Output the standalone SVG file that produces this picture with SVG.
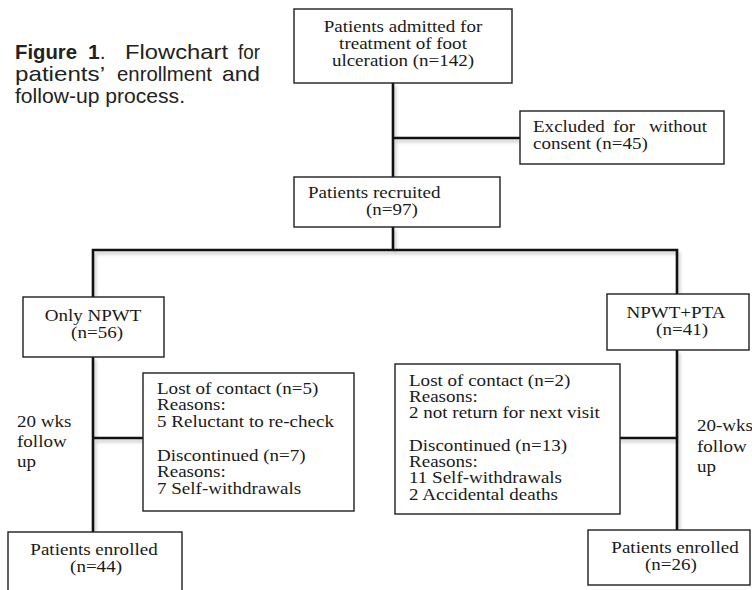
<svg xmlns="http://www.w3.org/2000/svg" width="752" height="590" viewBox="0 0 752 590">
<style>
.box{fill:#fff;stroke:#1e1e1e;stroke-width:1.4}
.t{font-family:"Liberation Serif","Times New Roman",serif;font-size:17px;fill:#1a1a1a}
.c{text-anchor:middle}
.cap{font-family:"Liberation Sans",Arial,sans-serif;font-size:21px;fill:#222}
.b{font-weight:bold}
.ln{stroke:#111;stroke-width:2.6;fill:none;stroke-linecap:square}
.sh{stroke:#000;stroke-opacity:0.18;stroke-width:3;fill:none;filter:url(#blur)}
</style>
<defs>
<filter id="blur" x="-10%" y="-50%" width="120%" height="200%"><feGaussianBlur stdDeviation="1.5"/></filter>
</defs>
<rect width="752" height="590" fill="#fff"/>

<g id="caption">
<text class="cap b" x="15" y="59" textLength="62" lengthAdjust="spacingAndGlyphs">Figure</text>
<text class="cap" x="88" y="59"><tspan class="b">1</tspan>.</text>
<text class="cap" x="125" y="59" textLength="103" lengthAdjust="spacingAndGlyphs">Flowchart</text>
<text class="cap" x="238" y="59" textLength="22" lengthAdjust="spacingAndGlyphs">for</text>
<text class="cap" x="15" y="81" textLength="90" lengthAdjust="spacingAndGlyphs">patients’</text>
<text class="cap" x="117" y="81" textLength="95" lengthAdjust="spacingAndGlyphs">enrollment</text>
<text class="cap" x="222" y="81" textLength="38" lengthAdjust="spacingAndGlyphs">and</text>
<text class="cap" x="15" y="103" textLength="170" lengthAdjust="spacingAndGlyphs">follow-up process.</text>
</g>

<g id="connectors">
<path class="sh" d="M395,86V177M395,141H520M395,230V252M95,253H679M95,253V297M679,253V294M95,360V532M95,441H143M679,353V530M620,441H679"/>
<path class="ln" d="M393,83V177M393,138H520M393,227V250M93,250H677M93,250V297M677,250V294M93,357V532M93,438H143M677,350V530M620,438H677"/>
</g>

<g id="admitted">
<rect class="box" x="294" y="9" width="218" height="74"/>
<text class="t c" transform="translate(403,0) scale(1.12,1)"><tspan x="0" y="32">Patients admitted for</tspan><tspan x="0" y="49">treatment of foot</tspan><tspan x="0" y="66">ulceration (n=142)</tspan></text>
</g>

<g id="excluded">
<rect class="box" x="520" y="111" width="204" height="53"/>
<text class="t" transform="translate(533,0) scale(1.12,1)"><tspan x="0" y="132">Excluded</tspan><tspan x="71.4" y="132">for</tspan><tspan x="103.6" y="132">without</tspan><tspan x="0" y="149">consent (n=45)</tspan></text>
</g>

<g id="recruited">
<rect class="box" x="294" y="177" width="206" height="50"/>
<text class="t" transform="translate(308,0) scale(1.12,1)"><tspan x="0" y="198">Patients recruited</tspan><tspan x="51.8" y="215">(n=97)</tspan></text>
</g>

<g id="only-npwt">
<rect class="box" x="23" y="297" width="141" height="60"/>
<text class="t c" transform="translate(93,0) scale(1.12,1)"><tspan x="0" y="321">Only NPWT</tspan><tspan x="3.6" y="338">(n=56)</tspan></text>
</g>

<g id="npwt-pta">
<rect class="box" x="607" y="294" width="142" height="56"/>
<text class="t c" transform="translate(676,0) scale(1.12,1)"><tspan x="0" y="318">NPWT+PTA</tspan><tspan x="5.4" y="335">(n=41)</tspan></text>
</g>

<g id="label-left">
<text class="t" transform="translate(17,0) scale(1.12,1)"><tspan x="0" y="427">20 wks</tspan><tspan x="0" y="447">follow</tspan><tspan x="0" y="467">up</tspan></text>
</g>

<g id="lost-left">
<rect class="box" x="143" y="373" width="211" height="138"/>
<text class="t" transform="translate(157,0) scale(1.12,1)"><tspan x="0" y="394">Lost of contact (n=5)</tspan><tspan x="0" y="410">Reasons:</tspan><tspan x="0" y="427">5 Reluctant to re-check</tspan><tspan x="0" y="461">Discontinued (n=7)</tspan><tspan x="0" y="477">Reasons:</tspan><tspan x="0" y="494">7 Self-withdrawals</tspan></text>
</g>

<g id="lost-right">
<rect class="box" x="395" y="364" width="225" height="150"/>
<text class="t" transform="translate(409,0) scale(1.12,1)"><tspan x="0" y="386">Lost of contact (n=2)</tspan><tspan x="0" y="402">Reasons:</tspan><tspan x="0" y="418">2 not return for next visit</tspan><tspan x="0" y="451">Discontinued (n=13)</tspan><tspan x="0" y="467">Reasons:</tspan><tspan x="0" y="483">11 Self-withdrawals</tspan><tspan x="0" y="500">2 Accidental deaths</tspan></text>
</g>

<g id="label-right">
<text class="t" transform="translate(697,0) scale(1.12,1)"><tspan x="0" y="431">20-wks</tspan><tspan x="0" y="452">follow</tspan><tspan x="0" y="472">up</tspan></text>
</g>

<g id="enrolled-left">
<rect class="box" x="8" y="532" width="174" height="62"/>
<text class="t c" transform="translate(94,0) scale(1.12,1)"><tspan x="0" y="555">Patients enrolled</tspan><tspan x="1.8" y="572">(n=44)</tspan></text>
</g>

<g id="enrolled-right">
<rect class="box" x="588" y="530" width="162" height="55"/>
<text class="t c" transform="translate(675,0) scale(1.12,1)"><tspan x="0" y="553">Patients enrolled</tspan><tspan x="-3.6" y="570">(n=26)</tspan></text>
</g>
</svg>
